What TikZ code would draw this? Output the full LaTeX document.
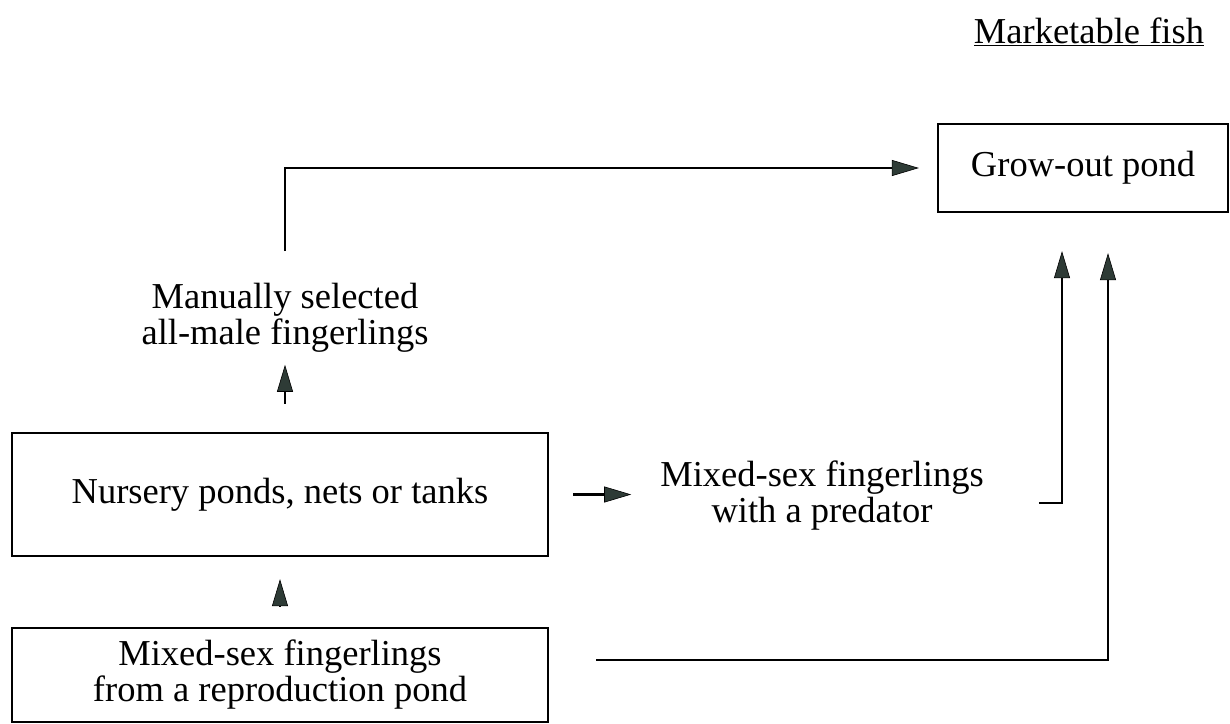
\documentclass[tikz,border=0pt]{standalone}
\usepackage{fontspec}
\setmainfont{Liberation Serif}
\usetikzlibrary{arrows.meta,calc}
\definecolor{tipc}{HTML}{2E3B36}
\newcommand\fsz{\fontsize{36.5}{36}\selectfont}
\begin{document}
\begin{tikzpicture}[x=1pt,y=-1pt,
  box/.style={draw, line width=2.3pt, inner sep=0pt, align=center, font=\fsz},
  lbl/.style={inner sep=0pt, align=center, font=\fsz},
  arr/.style={line width=2.3pt, -{Triangle[length=27pt,width=16pt,fill=tipc,line width=0.6pt]}}]
\useasboundingbox (0,0) rectangle (1230,723);
\node[box, minimum width=290, minimum height=88] (gp) at (1083,168) {Grow-out pond};
\node[box, minimum width=536, minimum height=123] (nur) at (280,494.5) {Nursery ponds, nets or tanks};
\node[box, minimum width=536, minimum height=94] (src) at (280,675) {Mixed-sex fingerlings\\from a reproduction pond};
\node[lbl] (sel) at (285,318) {Manually selected\\all-male fingerlings};
\node[lbl] (pred) at (822,496) {Mixed-sex fingerlings\\with a predator};
\node[lbl] (mf) at (1089,32) {\underline{Marketable fish}};
\draw[arr] ([yshift=32pt]sel.north) |- ($(gp.west)+(-18,0)$);
\draw[arr] ($(nur.north -| sel.south)+(0,-28)$) -- ($(sel.south)+(0,12)$);
\draw[arr] ($(nur.east)+(24,0)$) -- ($(nur.east)+(82,0)$);
\draw[arr] ($(pred.east)+(55,7)$) -| ($(gp.south)+(-21,38)$);
\draw[arr] ($(src.east)+(47,-15)$) -| ($(gp.south)+(25,40)$);
\draw[arr] ($(src.north)+(0,-21)$) -- ($(nur.south)+(0,22)$);
\end{tikzpicture}
\end{document}
